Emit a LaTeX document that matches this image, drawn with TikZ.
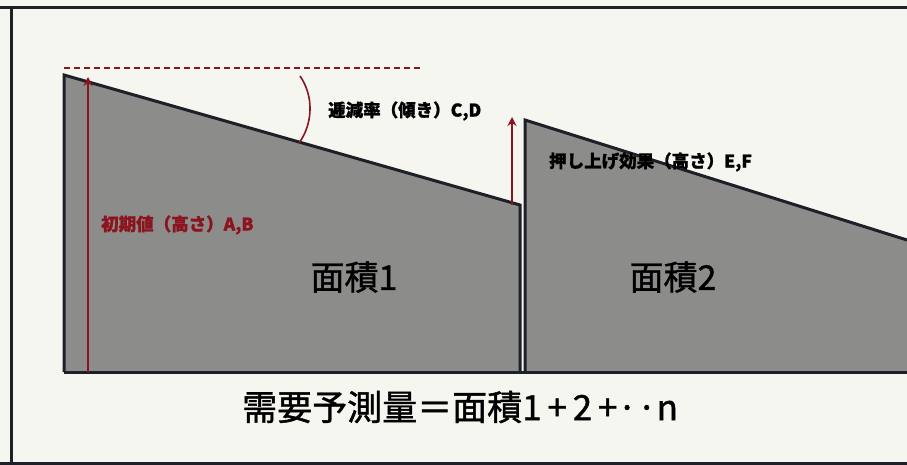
\documentclass[tikz,border=0pt]{standalone}
\usepackage{fontspec}
\usetikzlibrary{arrows.meta}
\setmainfont{Noto Sans CJK JP}
\newfontfamily\jpheavy{Noto Sans CJK JP}[FakeBold=1.2]
\definecolor{paper}{RGB}{246,246,240}
\definecolor{areafill}{RGB}{140,140,138}
\definecolor{edge}{RGB}{28,32,40}
\definecolor{darkred}{RGB}{140,20,30}
\begin{document}
\begin{tikzpicture}[x=1pt,y=-1pt,
  edgeline/.style={draw=edge,line width=3pt,line join=miter},
  redarrow/.style={draw=darkred,line width=1.6pt,-{Stealth[length=9pt,width=9pt]}},
  smalllabel/.style={font=\jpheavy\bfseries\fontsize{17.5}{17.5}\selectfont,inner sep=0pt,anchor=west},
  biglabel/.style={font=\jpheavy\fontsize{34}{34}\selectfont,inner sep=0pt}]
\fill[paper] (0,0) rectangle (907,465);
\useasboundingbox (0,0) rectangle (907,465);
% outer frame
\draw[edge,line width=3pt] (0,8) -- (907,8);
\draw[edge,line width=3pt] (11,8) -- (11,465);
\draw[edge,line width=3pt] (0,463) -- (907,463);
% area 1
\coordinate (a1tl) at (64,75);
\coordinate (a1bl) at (64,372);
\coordinate (a1br) at (520,372);
\coordinate (a1tr) at (520,205);
\fill[areafill] (a1tl) -- (a1bl) -- (a1br) -- (a1tr) -- cycle;
% area 2
\coordinate (a2tl) at (525,120);
\coordinate (a2bl) at (525,372);
\coordinate (a2br) at (907,372);
\coordinate (a2tr) at (907,240);
\fill[areafill] (a2tl) -- (a2bl) -- (a2br) -- (a2tr) -- cycle;
% edges
\draw[edgeline] (a1bl) -- (a1tl) -- (a1tr) -- (a1br);
\draw[edgeline] (a2bl) -- (a2tl) -- (a2tr);
\draw[edgeline] (a1bl) -- (a2br);
% dashed reference line
\coordinate (d0) at (64,68);
\coordinate (d1) at (420,68);
\draw[darkred,line width=1.3pt,dash pattern=on 6pt off 4pt] (d0) -- (d1);
% arc
\coordinate (arc0) at (300,76);
\coordinate (arc1) at (299,143);
\draw[darkred,line width=1.6pt] (arc0) .. controls (314,96) and (313,124) .. (arc1);
% red arrows
\coordinate (r1a) at (88,372);
\coordinate (r1b) at (88,77);
\draw[redarrow] (r1a) -- (r1b);
\coordinate (r2a) at (512,205);
\coordinate (r2b) at (512,117);
\draw[redarrow] (r2a) -- (r2b);
% labels
\node[smalllabel] (lcd) at (328,111) {逓減率（傾き）C,D};
\node[smalllabel,text=darkred] (lab) at (101,225) {初期値（高さ）A,B};
\node[smalllabel] (lef) at (549,162) {押し上げ効果（高さ）E,F};
\node[biglabel] (m1) at (354,277) {面積1};
\node[biglabel] (m2) at (673,277) {面積2};
\node[biglabel,anchor=west,font=\jpheavy\fontsize{35}{35}\selectfont] (eq) at (242,407) {需要予測量＝面積1\,+\,2\,+··n};
\end{tikzpicture}
\end{document}
